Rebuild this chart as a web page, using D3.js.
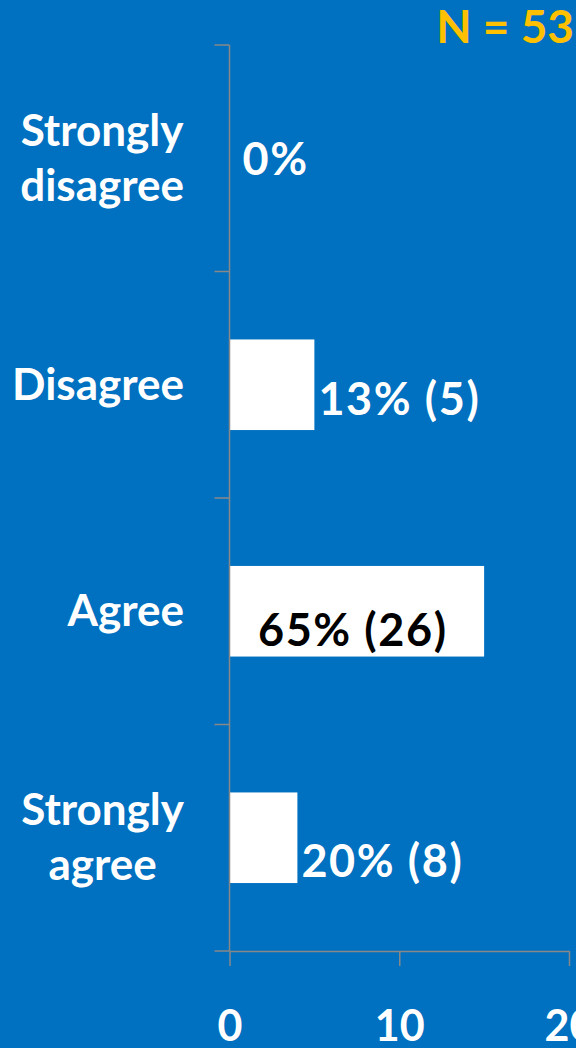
<!DOCTYPE html>
<html>
<head>
<meta charset="utf-8">
<script src="https://cdn.jsdelivr.net/npm/d3@7/dist/d3.min.js"></script>
<style>
  html, body { margin: 0; padding: 0; background: #0070C0; overflow: hidden; }
  svg { display: block; }
  text { font-family: Lato, "Open Sans", sans-serif; font-weight: 700; }
</style>
</head>
<body>
<svg id="chart" width="576" height="1048"></svg>
<script>
// Survey responses, top to bottom
const categories = ["Strongly disagree", "Disagree", "Agree", "Strongly agree"];
const categoryLines = [["Strongly", "disagree"], ["Disagree"], ["Agree"], ["Strongly", "agree"]];
// bar lengths on the axis
const barValues = [0, 5, 15, 4];
// labels printed next to each bar
const percentLabels = ["0%", "13%", "65%", "20%"];
const countLabels = [null, 5, 26, 8];
const xTicks = [0, 10, 20];
const sampleSize = 53;

const W = 576, H = 1048;
const svg = d3.select("#chart");
const axisColor = "#888888";

const plot = { left: 229.5, right: 569, top: 45, bottom: 951 };

const x = d3.scaleLinear().domain([0, 20]).range([plot.left, plot.right]);
const y = d3.scaleBand()
  .domain(categories)
  .range([plot.top, plot.bottom])
  .paddingInner(0.6)
  .paddingOuter(0.3);

// bars
svg.append("g").selectAll("rect")
  .data(categories)
  .join("rect")
  .attr("x", x(0))
  .attr("y", d => y(d))
  .attr("width", (d, i) => x(barValues[i]) - x(0))
  .attr("height", y.bandwidth())
  .attr("fill", "#ffffff");

// x axis
const xAxis = svg.append("g")
  .attr("transform", `translate(0,${plot.bottom})`)
  .call(d3.axisBottom(x).tickValues(xTicks).tickSize(15).tickSizeOuter(0).tickPadding(0));
xAxis.select(".domain").attr("stroke", axisColor).attr("stroke-width", 1.5);
xAxis.selectAll(".tick line").attr("stroke", axisColor).attr("stroke-width", 1.5);
xAxis.selectAll(".tick text")
  .attr("fill", "#ffffff")
  .attr("font-size", 43)
  .attr("font-family", "Lato, sans-serif")
  .attr("font-weight", 700)
  .attr("y", 90)
  .attr("dy", null);

// y axis: vertical line with ticks at band boundaries
const yAxis = svg.append("g");
yAxis.append("line")
  .attr("x1", plot.left).attr("x2", plot.left)
  .attr("y1", plot.top).attr("y2", plot.bottom)
  .attr("stroke", axisColor).attr("stroke-width", 1.5);
const boundaries = d3.range(categories.length + 1).map(i => plot.top + i * y.step());
yAxis.selectAll("line.tick")
  .data(boundaries)
  .join("line")
  .attr("class", "tick")
  .attr("x1", plot.left - 15).attr("x2", plot.left)
  .attr("y1", d => d).attr("y2", d => d)
  .attr("stroke", axisColor).attr("stroke-width", 1.5);

// category labels (multi-line labels are centred on their widest line)
const catRight = 184;
const lineGap = 55;
const capHalf = 15;
categories.forEach((c, i) => {
  const lines = categoryLines[i];
  const cy = y(c) + y.bandwidth() / 2;
  const g = svg.append("g");
  const texts = lines.map((ln, k) => g.append("text")
    .attr("y", cy + (k - (lines.length - 1) / 2) * lineGap + capHalf)
    .attr("fill", "#ffffff")
    .attr("font-size", 44)
    .text(ln));
  if (lines.length === 1) {
    texts[0].attr("x", catRight).attr("text-anchor", "end");
  } else {
    const maxW = d3.max(texts, t => t.node().getComputedTextLength());
    texts.forEach(t => t.attr("x", catRight - maxW / 2).attr("text-anchor", "middle"));
  }
});

// value labels
const labelDy = [2, 15, 20, 24];
categories.forEach((c, i) => {
  const txt = countLabels[i] == null ? percentLabels[i] : `${percentLabels[i]} (${countLabels[i]})`;
  const cy = y(c) + y.bandwidth() / 2 + labelDy[i] + capHalf;
  const end = x(barValues[i]);
  const t = svg.append("text")
    .attr("y", cy)
    .attr("font-size", 45)
    .attr("letter-spacing", 1.6)
    .text(txt);
  const w = t.node().getComputedTextLength();
  const gap = barValues[i] === 0 ? 13 : 4;
  if (end + gap + w > W) {
    // no room outside: place it inside the bar, dark on white
    t.attr("x", (x(0) + end) / 2 - 4).attr("text-anchor", "middle").attr("fill", "#000000");
  } else {
    t.attr("x", end + gap).attr("fill", "#ffffff");
  }
});

// sample size
svg.append("text")
  .attr("x", 574)
  .attr("y", 43)
  .attr("text-anchor", "end")
  .attr("fill", "#FFC000")
  .attr("font-size", 46)
  .text(`N = ${sampleSize}`);
</script>
</body>
</html>
